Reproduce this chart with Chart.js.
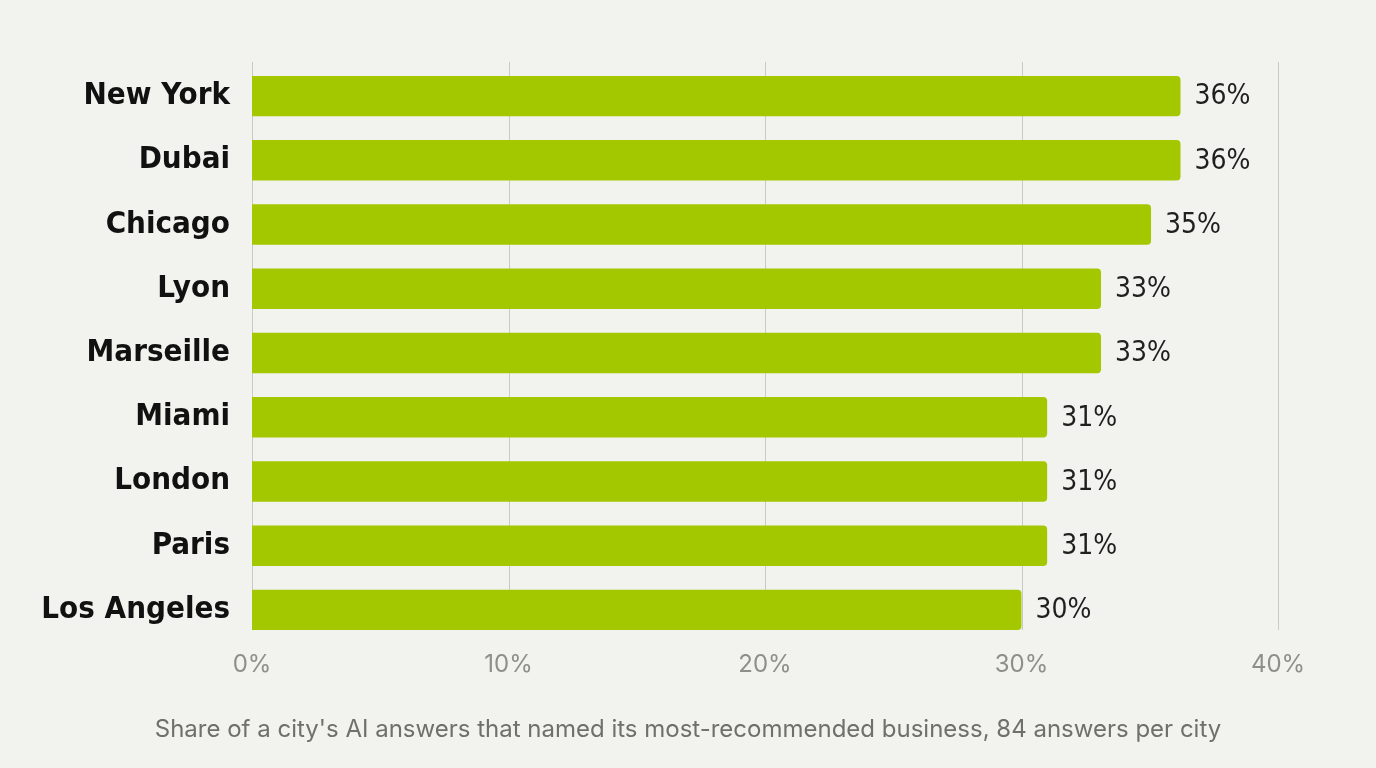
<!DOCTYPE html>
<html>
<head>
<meta charset="utf-8">
<script src="https://cdn.jsdelivr.net/npm/chart.js@4.4.1/dist/chart.umd.min.js"></script>
<style>
  html, body { margin: 0; padding: 0; background: #f2f2ee; }
  #wrap { width: 1376px; height: 768px; }
</style>
</head>
<body>
<div id="wrap"><canvas id="myChart" width="1376" height="768"></canvas></div>
<script>
let cities = ["New York", "Dubai", "Chicago", "Lyon", "Marseille", "Miami", "London", "Paris", "Los Angeles"];
let shares = [36.2, 36.2, 35.05, 33.1, 33.1, 31.0, 31.0, 31.0, 30.0];
let xTicks = [0, 10, 20, 30, 40];
let caption = "Share of a city's AI answers that named its most-recommended business, 84 answers per city";

let condensed = "'DejaVu Sans Condensed', 'Liberation Sans Narrow', 'Roboto Condensed', sans-serif";

// vertical grid lines that stop at the first and last bar
let gridLines = {
    id: 'gridLines',
    beforeDatasetsDraw(chart) {
        let ctx = chart.ctx;
        let bars = chart.getDatasetMeta(0).data;
        let top = bars[0].y - bars[0].height / 2 - 14;
        let bottom = bars[bars.length - 1].y + bars[bars.length - 1].height / 2;
        ctx.save();
        ctx.strokeStyle = '#cacac5';
        ctx.lineWidth = 1;
        xTicks.forEach(v => {
            let x = Math.round(chart.scales.x.getPixelForValue(v)) + 0.5;
            ctx.beginPath();
            ctx.moveTo(x, top);
            ctx.lineTo(x, bottom);
            ctx.stroke();
        });
        ctx.restore();
    }
};

// value labels at the end of each bar, caption under the chart
let valueLabels = {
    id: 'valueLabels',
    afterDatasetsDraw(chart) {
        let ctx = chart.ctx;
        let meta = chart.getDatasetMeta(0);
        ctx.save();
        ctx.font = "28px " + condensed;
        ctx.fillStyle = '#1f1f1f';
        ctx.textAlign = 'left';
        ctx.textBaseline = 'middle';
        meta.data.forEach((bar, i) => {
            ctx.fillText(Math.round(shares[i]) + '%', bar.x + 14, bar.y + 1);
        });
        ctx.font = "24px Inter, Roboto, sans-serif";
        ctx.fillStyle = '#6f6f6b';
        ctx.textAlign = 'center';
        ctx.fillText(caption, chart.width / 2, 730);
        ctx.restore();
    }
};

let ctx = document.getElementById("myChart").getContext('2d');
let myBarChart = new Chart(ctx, {
    type: 'bar',
    data: {
        labels: cities,
        datasets: [{
            data: shares,
            backgroundColor: '#a4c800',
            borderRadius: 4,
            barPercentage: 0.63,
            categoryPercentage: 1
        }]
    },
    options: {
        indexAxis: 'y',
        responsive: false,
        animation: false,
        layout: { padding: { top: 64, right: 98, left: 0, bottom: 84 } },
        scales: {
            x: {
                min: 0,
                max: 40,
                afterBuildTicks: (scale) => { scale.ticks = xTicks.map(v => ({ value: v })); },
                ticks: {
                    callback: (v) => v + '%',
                    color: '#8e8e8a',
                    font: { family: 'Inter, Roboto, sans-serif', size: 24 },
                    padding: 8
                },
                grid: { display: false, drawTicks: false },
                border: { display: false },
                afterFit: (scale) => { scale.height = 42; }
            },
            y: {
                ticks: {
                    color: '#111111',
                    font: { family: condensed, size: 31, weight: 'bold' },
                    padding: 22
                },
                grid: { display: false, drawTicks: false },
                border: { display: false },
                afterFit: (scale) => { scale.width = 252; }
            }
        },
        plugins: {
            legend: { display: false },
            tooltip: { enabled: false },
            title: { display: false }
        }
    },
    plugins: [gridLines, valueLabels]
});
</script>
</body>
</html>
